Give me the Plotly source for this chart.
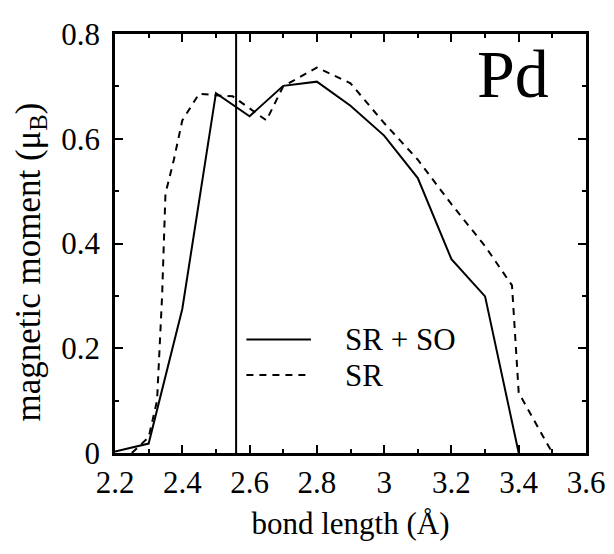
import plotly.graph_objects as go

# SR + SO (solid)
x_srso = [2.2, 2.3, 2.4, 2.5, 2.6, 2.7, 2.8, 2.9, 3.0, 3.1, 3.2, 3.3, 3.4]
y_srso = [0.003, 0.018, 0.275, 0.687, 0.643, 0.701, 0.709, 0.663, 0.606, 0.525, 0.370, 0.299, 0.0]

# SR (dashed)
x_sr = [2.25, 2.3, 2.325, 2.34, 2.35, 2.375, 2.4, 2.45, 2.5, 2.55, 2.65, 2.7, 2.8, 2.9,
        3.0, 3.1, 3.2, 3.3, 3.38, 3.4, 3.5]
y_sr = [0.0, 0.03, 0.10, 0.30, 0.495, 0.56, 0.635, 0.686, 0.683, 0.681, 0.635, 0.70, 0.736, 0.706,
        0.63, 0.56, 0.475, 0.395, 0.32, 0.115, 0.0]

reference_bond = 2.56
series_names = ["SR + SO", "SR"]
x_ticks = [2.2, 2.4, 2.6, 2.8, 3.0, 3.2, 3.4, 3.6]
x_tick_labels = ["2.2", "2.4", "2.6", "2.8", "3", "3.2", "3.4", "3.6"]
y_ticks = [0, 0.2, 0.4, 0.6, 0.8]
y_tick_labels = ["0", "0.2", "0.4", "0.6", "0.8"]

FONT = "Liberation Serif, Times New Roman, Times, serif"
FS = 31

fig = go.Figure()
fig.add_trace(go.Scatter(x=x_srso, y=y_srso, mode="lines", name=series_names[0],
                         line=dict(color="black", width=2), showlegend=False))
fig.add_trace(go.Scatter(x=x_sr, y=y_sr, mode="lines", name=series_names[1],
                         line=dict(color="black", width=2, dash="7px,6px"), showlegend=False))

fig.add_shape(type="line", x0=reference_bond, x1=reference_bond, xref="x", y0=0, y1=1, yref="paper",
              line=dict(color="black", width=2))

leg_x0, leg_x1, leg_text_x = 0.279, 0.416, 0.485
leg_rows = [0.2706, 0.186]
for name, dash, yy in zip(series_names, ["solid", "7px,6px"], leg_rows):
    fig.add_shape(type="line", xref="paper", yref="paper", x0=leg_x0, x1=leg_x1, y0=yy, y1=yy,
                  line=dict(color="black", width=2, dash=dash))
    fig.add_annotation(text=name, xref="paper", yref="paper", x=leg_text_x, y=yy,
                       xanchor="left", yanchor="middle", showarrow=False,
                       font=dict(family=FONT, size=FS, color="black"))

fig.add_annotation(text="Pd", xref="paper", yref="paper", x=0.925, y=1.0,
                   xanchor="right", yanchor="top", showarrow=False,
                   font=dict(family=FONT, size=68, color="black"))

# y-axis title as rotated annotation (positioned like the reference)
fig.add_annotation(text="magnetic moment (μ<sub>B</sub>)", xref="paper", yref="paper",
                   x=-0.18, y=0.455, xanchor="center", yanchor="middle", textangle=-90,
                   showarrow=False, font=dict(family=FONT, size=35, color="black"))

axis_common = dict(showline=True, linecolor="black", linewidth=2.5, mirror="allticks",
                   ticks="inside", ticklen=8, tickwidth=1.5, tickcolor="black",
                   showgrid=False, zeroline=False, ticklabeloverflow="allow",
                   tickfont=dict(family=FONT, size=FS, color="black"))

fig.update_xaxes(range=[2.2, 3.6], tickvals=x_ticks, ticktext=x_tick_labels,
                 minor=dict(ticks="inside", ticklen=4, dtick=0.1, tickcolor="black", tickwidth=1.5),
                 title=dict(text="bond length (Å)", font=dict(family=FONT, size=FS, color="black"), standoff=14),
                 **axis_common)
fig.update_yaxes(range=[0, 0.8], tickvals=y_ticks, ticktext=y_tick_labels,
                 minor=dict(ticks="inside", ticklen=4, dtick=0.1, tickcolor="black", tickwidth=1.5),
                 ticklabelstandoff=6,
                 **axis_common)

fig.update_layout(width=606, height=546, margin=dict(l=107, r=26, t=9, b=101),
                  font=dict(family=FONT),
                  paper_bgcolor="white", plot_bgcolor="white")

fig.write_html("out.html")
